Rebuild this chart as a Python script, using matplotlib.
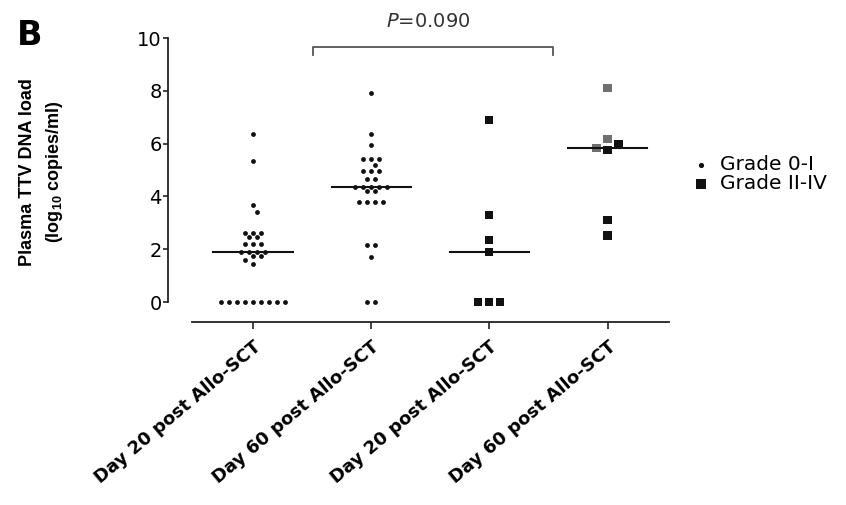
import matplotlib
matplotlib.use("Agg")
import matplotlib.pyplot as plt
import numpy as np

# values (log10 copies/ml)
categories = ["Day 20 post Allo-SCT", "Day 60 post Allo-SCT",
              "Day 20 post Allo-SCT", "Day 60 post Allo-SCT"]
d20_grade0 = [6.38, 5.34, 3.69, 3.41, 2.6, 2.6, 2.6, 2.48, 2.48,
              2.2, 2.2, 2.2, 1.9, 1.9, 1.9, 1.9, 1.75, 1.75, 1.6, 1.45,
              0, 0, 0, 0, 0, 0, 0, 0, 0]
d60_grade0 = [7.9, 6.37, 5.93, 5.4, 5.4, 5.4, 5.2, 4.95, 4.95, 4.95,
              4.66, 4.66, 4.36, 4.36, 4.36, 4.36, 4.36, 4.19, 4.19,
              3.79, 3.79, 3.79, 3.79, 2.17, 2.17, 1.7, 0, 0]
d20_grade2 = [6.88, 3.28, 2.33, 1.91, 0, 0, 0]
d60_grade2 = [8.12, 6.18, 5.97, 5.84, 5.75, 3.09, 2.52]
d60_grade2_grey = [True, True, False, True, False, False, False]
legend_labels = ["Grade 0-I", "Grade II-IV"]
p_text = "$\\mathit{P}$=0.090"
bracket_x = [0.51, 2.54]

plt.rcParams['mathtext.fontset'] = 'custom'
plt.rcParams['mathtext.rm'] = 'Liberation Sans:bold'
plt.rcParams['mathtext.it'] = 'DejaVu Sans:italic'

X_PX = 118.2   # pixels per category
Y_PX = 26.4    # pixels per log unit


def swarm(vals, step_px, tol=0.1):
    # rows of similar values spread sideways, rows shifted to dodge the row above
    vals = np.asarray(vals, dtype=float)
    order = np.argsort(-vals, kind='stable')
    rows = []
    for i in order:
        if rows and vals[rows[-1][0]] - vals[i] <= tol:
            rows[-1].append(i)
        else:
            rows.append([i])
    offs = np.zeros(len(vals))
    placed = []   # (x_px, y_px)
    thr = 0.95 * step_px
    for r in rows:
        n = len(r)
        base = [(k - (n - 1) / 2) * step_px for k in range(n)]
        best, best_d = 0.0, -1
        for sh in [0, 0.5, -0.5, 1, -1, 1.5, -1.5]:
            sh = sh * step_px
            d = 1e9
            for k, i in enumerate(r):
                for px, py in placed:
                    d = min(d, np.hypot(base[k] + sh - px, vals[i] * Y_PX - py))
            if d >= thr:
                best = sh
                break
            if d > best_d:
                best, best_d = sh, d
        for k, i in enumerate(r):
            offs[i] = (base[k] + best) / X_PX
            placed.append((base[k] + best, vals[i] * Y_PX))
    return offs


fig = plt.figure(figsize=(8.46, 5.05), dpi=100)
ax = fig.add_axes([192 / 846, 203 / 505, 477 / 846, 264 / 505])

for s in ['top', 'right']:
    ax.spines[s].set_visible(False)
ax.spines['left'].set_position(('outward', 17.3))
ax.spines['bottom'].set_position(('outward', 14.4))

groups = [d20_grade0, d60_grade0, d20_grade2, d60_grade2]
handles = []
for i, vals in enumerate(groups):
    dots = i < 2
    offs = swarm(vals, 8 if dots else 11)
    if i == 3:
        cols = ['#707070' if g else '#111111' for g in d60_grade2_grey]
    else:
        cols = '#111111'
    h = ax.scatter(i + offs, vals, marker='o' if dots else 's',
                   s=12 if dots else 34, c=cols, linewidths=0,
                   clip_on=False, zorder=3)
    handles.append(h)
    med = np.median(vals)
    ax.plot([i - 0.335, i + 0.335], [med, med], color='#111111', lw=1.5, zorder=4)

# significance bracket
ax.plot([bracket_x[0], bracket_x[0], bracket_x[1], bracket_x[1]],
        [9.36, 9.67, 9.67, 9.36], color='#555555', lw=1.3, clip_on=False)
ax.text(1.48, 10.62, p_text, ha='center', va='center', fontsize=14, color='#333333')

ax.set_xlim(-0.516, 3.52)
ax.set_ylim(0, 10)
ax.spines['left'].set_bounds(0, 10)
for s in ['left', 'bottom']:
    ax.spines[s].set_linewidth(1.3)
    ax.spines[s].set_color('#222222')
ax.tick_params(axis='y', direction='out', length=3.5, width=1.2, pad=1,
               labelsize=14, color='#222222')
ax.tick_params(axis='x', direction='out', length=5, width=1.2, pad=6.5,
               color='#222222')
ax.set_yticks([0, 2, 4, 6, 8, 10])
ax.set_xticks(range(4))
ax.set_xticklabels(categories, rotation=40, ha='right', rotation_mode='anchor',
                   fontsize=13, fontweight='bold')

fig.text(42 / 846, 1 - 172 / 505, "Plasma TTV DNA load\n(log$_{10}$ copies/ml)",
         rotation=90, ha='center', va='center', family='Liberation Sans',
         fontweight='bold', fontsize=13, linespacing=1.55)
fig.text(17 / 846, 1 - 45 / 505, "B", fontsize=24, fontweight='bold', va='baseline')

leg = ax.legend(handles[1:3], legend_labels, loc='center left',
                bbox_to_anchor=(1.029, 0.485), frameon=False, prop={'size': 14.5},
                handletextpad=0.45, labelspacing=0.0, borderaxespad=0,
                handlelength=1, scatterpoints=1)
leg.legend_handles[0].set_sizes([14])
leg.legend_handles[1].set_sizes([52])

fig.savefig("out.png", dpi=100)
